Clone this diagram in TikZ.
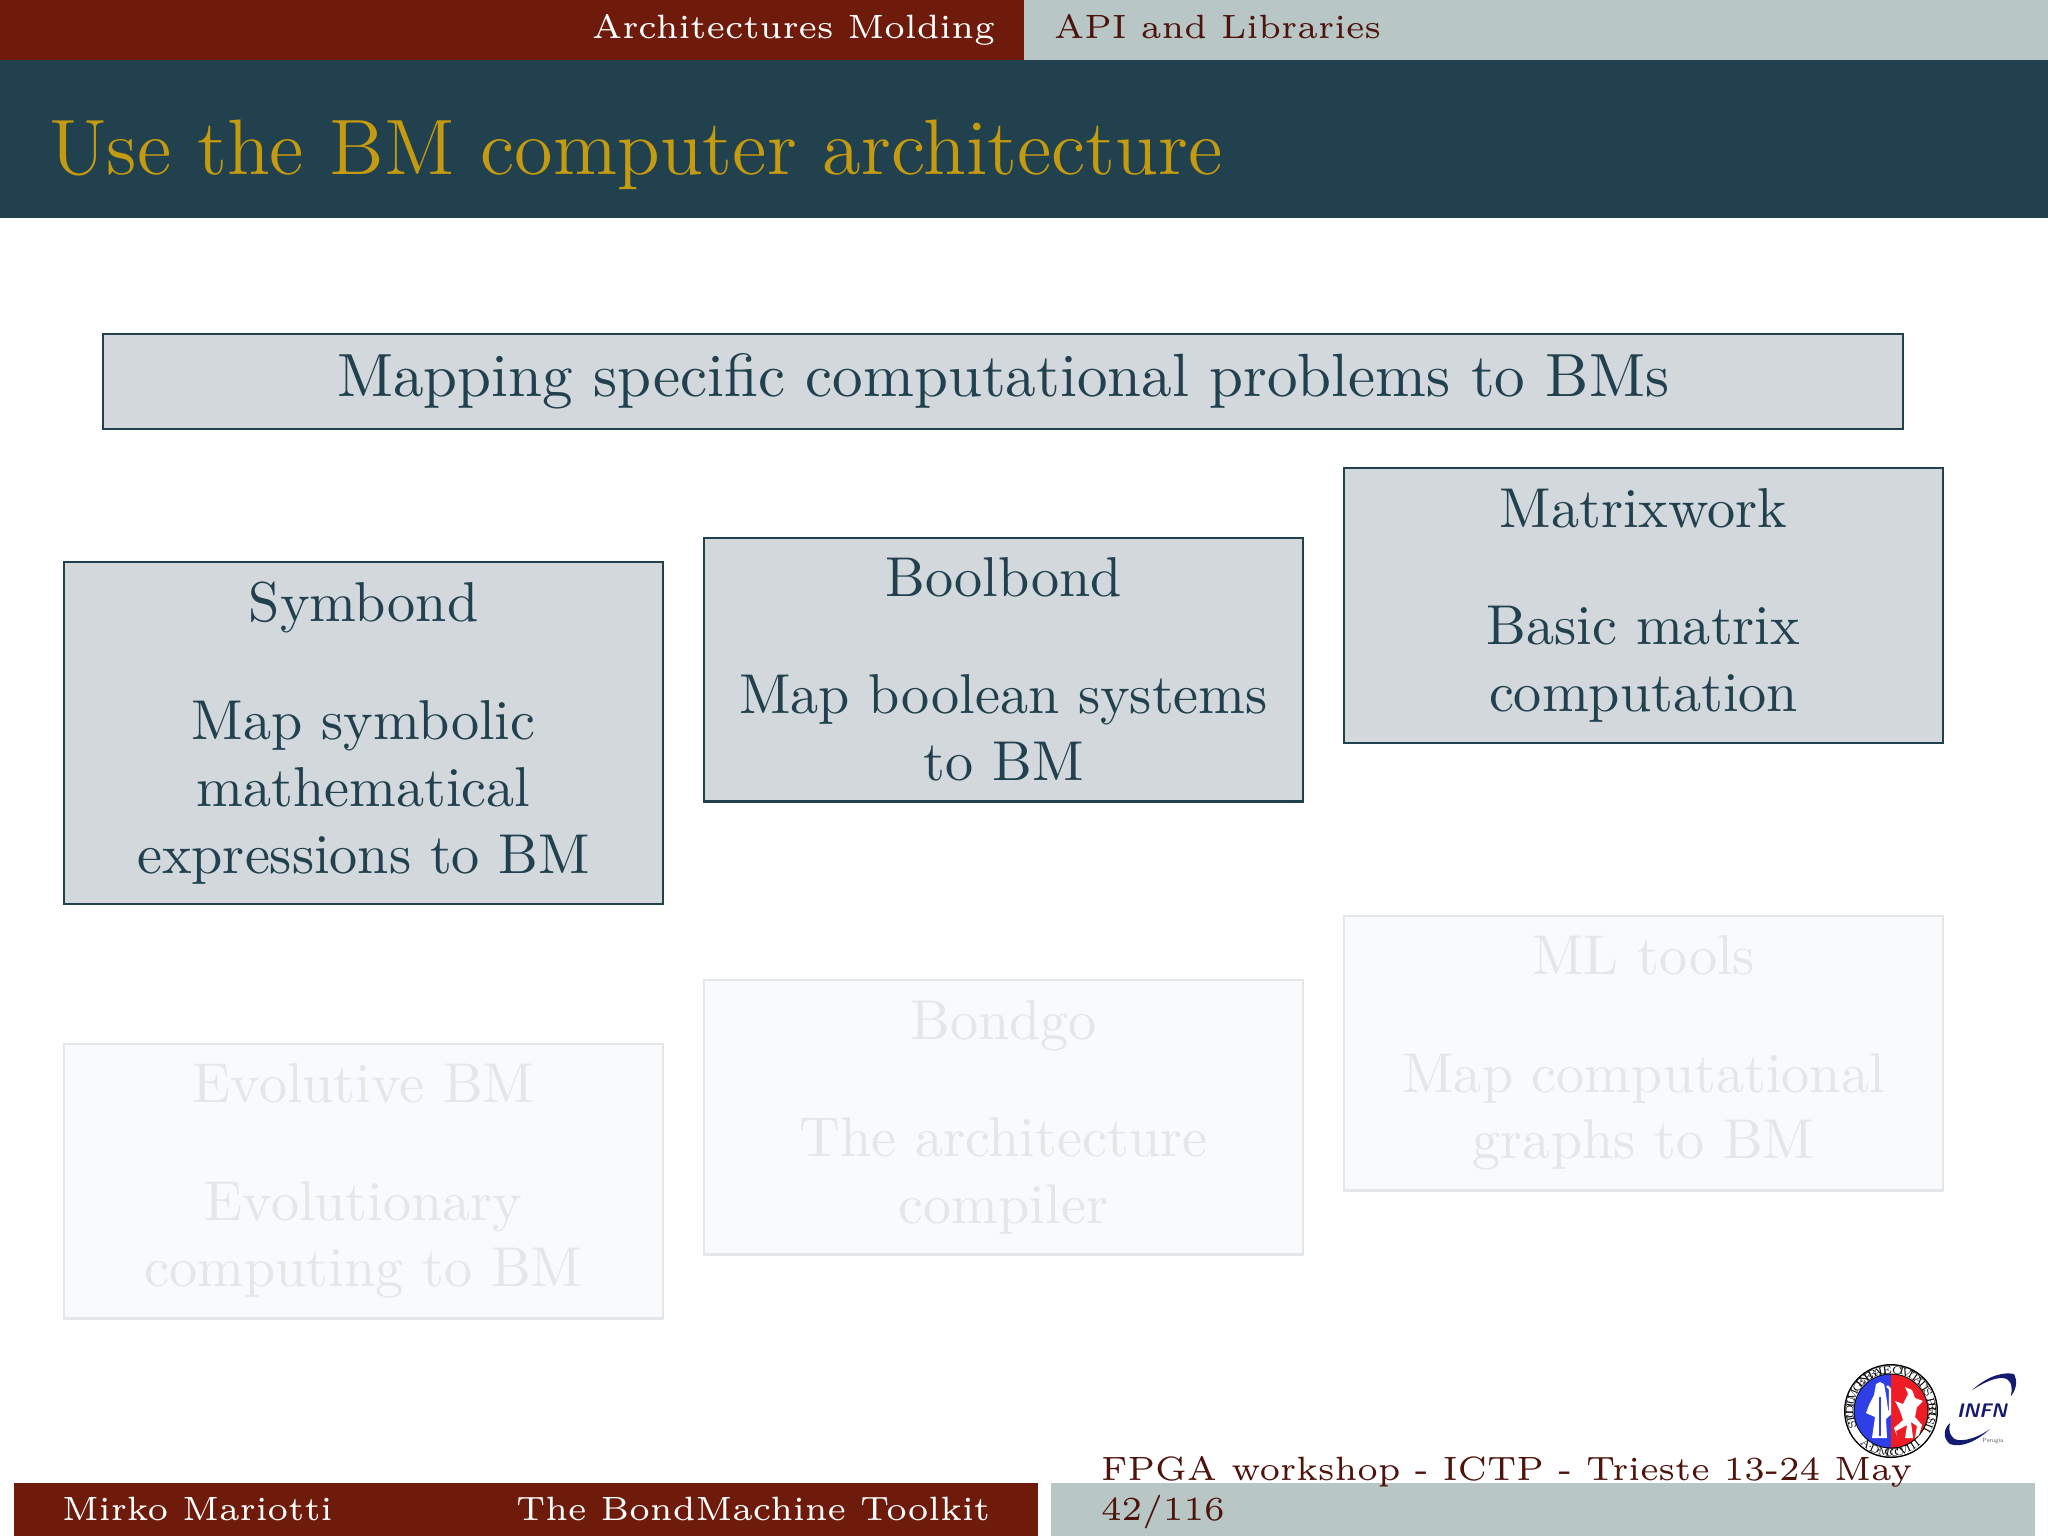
\documentclass[tikz,border=0pt]{standalone}

\definecolor{barred}{HTML}{6F1B0C}
\definecolor{bardark}{HTML}{4E140B}
\definecolor{bargrey}{HTML}{B8C6C6}
\definecolor{titleteal}{HTML}{21414E}
\definecolor{titlegold}{HTML}{C49A10}
\definecolor{boxfill}{HTML}{D2D8DC}
\definecolor{fadefill}{HTML}{F8FAFB}
\definecolor{fadeline}{HTML}{E3E7E9}
\definecolor{sealblue}{HTML}{2E3FE8}
\definecolor{sealred}{HTML}{EE1C24}
\definecolor{infnblue}{HTML}{141A6E}

\tikzset{
    bartext/.style={inner sep=0pt, font=\fontsize{6}{7}\selectfont},
    fullbox/.style={draw=titleteal, fill=boxfill, text=titleteal, line width=0.4pt, minimum width=3.75cm, inner sep=0pt, align=center, font=\fontsize{10}{11.9}\selectfont, anchor=north west},
    fadebox/.style={fullbox, draw=fadeline, fill=fadefill, text=fadeline},
    sealtext/.style={inner sep=0pt, text=black, font=\fontsize{1.9}{2}\selectfont}
}

\begin{document}
\begin{tikzpicture}[x=0.00625cm, y=-0.00625cm]

\useasboundingbox (0,0) rectangle (2048,1536);

% Top bars
\fill[barred] (0,0) rectangle (1024,60);
\fill[bargrey] (1024,0) rectangle (2048,60);
\fill[titleteal] (0,60) rectangle (2048,218);

\node[bartext, text=white, anchor=base east] (section) at (996,38) {Architectures Molding};
\node[bartext, text=bardark, anchor=base west] (subsection) at (1053,38) {API and Libraries};
\node[inner sep=0pt, text=titlegold, anchor=base west, font=\fontsize{14}{16}\selectfont] (title) at (48,174) {Use the BM computer architecture};

% Heading box
\node[fullbox, minimum width=11.26cm, minimum height=0.595cm, font=\fontsize{10.87}{12}\selectfont] (mapping) at (102,333) {Mapping specific computational problems to BMs};

% Full boxes
\node[fullbox, minimum height=2.14cm] (symbond) at (62.7,561) {Symbond\\[9pt]Map symbolic\\mathematical\\expressions to BM};
\node[fullbox, minimum height=1.65cm] (boolbond) at (702.7,536.5) {Boolbond\\[9pt]Map boolean systems\\to BM};
\node[fullbox, minimum height=1.72cm] (matrixwork) at (1342.7,467) {Matrixwork\\[9pt]Basic matrix\\computation};

% Faded boxes
\node[fadebox, minimum height=1.72cm] (evolutive) at (62.7,1042.5) {Evolutive BM\\[9pt]Evolutionary\\computing to BM};
\node[fadebox, minimum height=1.72cm] (bondgo) at (702.7,978.5) {Bondgo\\[9pt]The architecture\\compiler};
\node[fadebox, minimum height=1.72cm] (mltools) at (1342.7,914.5) {ML tools\\[9pt]Map computational\\graphs to BM};

% Bottom bars
\fill[barred] (14,1483) rectangle (1038,1536);
\fill[bargrey] (1051,1483) rectangle (2035,1536);

\node[bartext, text=white, anchor=base west] (author) at (61,1520) {Mirko Mariotti};
\node[bartext, text=white, anchor=base west] (talk) at (515,1520) {The BondMachine Toolkit};
\node[bartext, text=bardark, anchor=base west] (event) at (1100,1480) {FPGA workshop - ICTP - Trieste 13-24 May};
\node[bartext, text=bardark, anchor=base west] (page) at (1100,1520) {42/116};

% Seal
\begin{scope}[shift={(1891,1411)}, y=0.00625cm]
\fill[black] (0,0) circle (47);
\fill[white] (0,0) circle (45.5);
\fill[black] (0,0) circle (37.5);
\fill[sealblue] (0,36.5) arc (90:270:36.5) -- cycle;
\fill[sealred] (0,36.5) arc (90:-90:36.5) -- cycle;
% bishop
\fill[white] (-19,-27) -- (-16,-6) -- (-25,-2) -- (-22,6) -- (-17,16) -- (-15,27) -- (-11,29) -- (-7,27) -- (-5,16) -- (-3,2) -- (-1,-4) -- (-5,-8) -- (-4,-27) -- cycle;
\draw[sealblue, line width=0.4pt] (-11,14) -- (-11,-25);
\draw[white, line width=0.4pt] (-1,-4) -- (-1,22) -- (-4,25);
% griffin
\fill[white] (14,-27) -- (16,-14) -- (5,-20) -- (6,-25) -- (3,-17) -- (12,-9) -- (9,0) -- (4,10) -- (12,7) -- (17,17) -- (14,24) -- (21,21) -- (24,13) -- (32,10) -- (26,4) -- (24,-6) -- (31,-14) -- (28,-24) -- (24,-27) -- (26,-15) -- (20,-11) -- (22,-27) -- cycle;
\foreach \letter [count=\i] in {S,T,U,D,I,U,M,{},G,E,N,E,R,A,L,E,{},C,I,V,I,T,A,T,I,S,{},P,E,R,U,S,I,I}
    \node[sealtext, rotate={206-\i*6.9-90}] (sealtop\i) at ({206-\i*6.9}:41.3) {\letter};
\foreach \letter [count=\i] in {A,.,D,.,M,C,C,C,V,I,I,I}
    \node[sealtext, rotate={226+\i*6.9+90}] (sealbottom\i) at ({226+\i*6.9}:41.3) {\letter};
\end{scope}

% INFN mark
\node[inner sep=0pt, text=infnblue, font=\sffamily\bfseries\itshape\fontsize{3.5}{4}\selectfont] (infn) at (1982,1411) {INFN};
\node[inner sep=0pt, text=black!60, font=\sffamily\fontsize{1.1}{2}\selectfont] (perugia) at (1993,1441) {Perugia};
\fill[infnblue] (1972,1390) .. controls (1990,1374) and (2005,1372) .. (2014,1374) .. controls (2018,1382) and (2016,1390) .. (2011,1396) .. controls (2013,1384) and (2010,1378) .. (2002,1378) .. controls (1992,1378) and (1982,1384) .. (1972,1390) -- cycle;
\fill[infnblue] (1990,1429) .. controls (1976,1442) and (1960,1448) .. (1950,1444) .. controls (1942,1438) and (1944,1428) .. (1950,1423) .. controls (1948,1432) and (1951,1439) .. (1958,1440) .. controls (1968,1441) and (1980,1436) .. (1990,1429) -- cycle;

\end{tikzpicture}
\end{document}
